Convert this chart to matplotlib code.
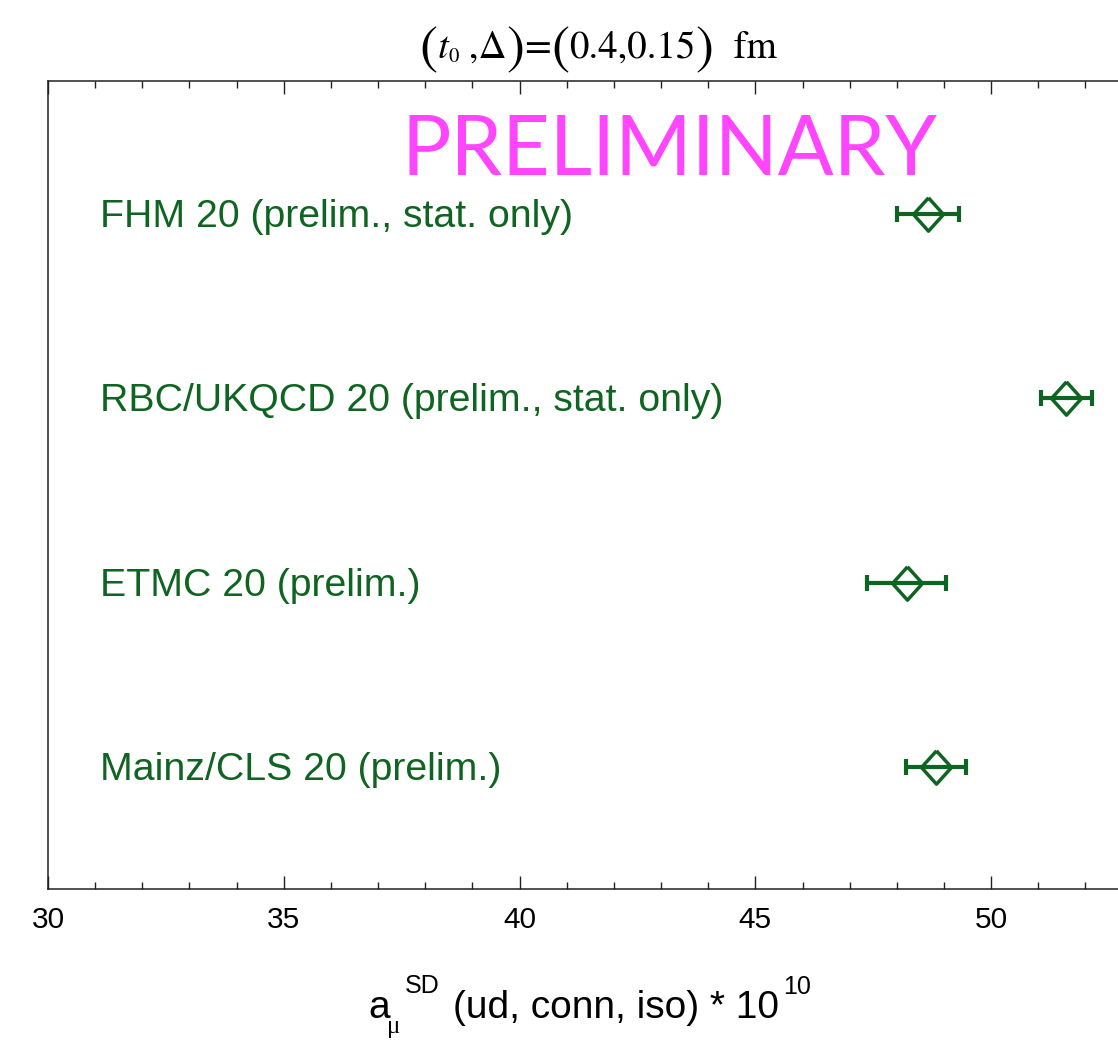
import matplotlib
matplotlib.use("Agg")
import matplotlib.pyplot as plt
from matplotlib.ticker import MultipleLocator
from matplotlib.transforms import blended_transform_factory, offset_copy

# Results: a_mu^SD (ud, conn, iso) * 10^10
collabs = ["FHM 20 (prelim., stat. only)",
           "RBC/UKQCD 20 (prelim., stat. only)",
           "ETMC 20 (prelim.)",
           "Mainz/CLS 20 (prelim.)"]
values = [48.66, 51.59, 48.21, 48.83]
errors = [0.65, 0.54, 0.84, 0.64]
rows = [4, 3, 2, 1]

green = "#0e6420"
magenta = "#ff45ff"

W, H = 1118, 1041
fig = plt.figure(figsize=(W / 100, H / 100), dpi=100)
ax = fig.add_axes([48 / W, 1 - 889 / H, 1070 / W, (889 - 81) / H])

ax.errorbar(values, rows, xerr=errors, fmt="none", ecolor=green,
            elinewidth=3.0, capsize=5.5, capthick=3.0, zorder=3)
diamond = [(0, 1), (0.9, 0), (0, -1), (-0.9, 0), (0, 1)]
ax.plot(values, rows, linestyle="none", marker=diamond, markersize=24,
        markerfacecolor="none", markeredgecolor=green, markeredgewidth=2.5,
        zorder=4)

lab_tr = offset_copy(blended_transform_factory(ax.transAxes, ax.transData),
                     fig=fig, x=0, y=-3, units="dots")
for name, r in zip(collabs, rows):
    ax.text(52 / 1070, r, name, transform=lab_tr, ha="left", va="center",
            color=green, fontsize=28.3, family="Liberation Sans")

ax.set_xlim(30, 52.69)
ax.set_ylim(0.338, 4.72)
ax.xaxis.set_major_locator(MultipleLocator(5))
ax.xaxis.set_minor_locator(MultipleLocator(1))
ax.tick_params(axis="x", which="both", direction="in", top=True, bottom=True,
               width=1.0, color="#222222")
ax.tick_params(axis="x", which="major", length=9.5, pad=12, labelsize=21.5)
ax.tick_params(axis="x", which="minor", length=5)
ax.tick_params(axis="y", left=False, labelleft=False)
for lbl in ax.get_xticklabels():
    lbl.set_family("Liberation Sans")
ax.spines["right"].set_visible(False)
for s in ("left", "top", "bottom"):
    ax.spines[s].set_linewidth(1.1)
    ax.spines[s].set_color("#222222")

renderer = fig.canvas.get_renderer()


def run_of_text(pieces, x_center, baseline, family):
    """Lay out (text, size, style, dy_px) pieces left to right, centred."""
    items = []
    x = 0.0
    for s, size, style, dy in pieces:
        t = fig.text(0, 0, s, fontsize=size, style=style, family=family,
                     ha="left", va="baseline")
        w = t.get_window_extent(renderer).width
        items.append((t, x, dy))
        x += w
    x0 = x_center - x / 2
    for t, off, dy in items:
        t.set_position(((x0 + off) / W, 1 - (baseline + dy) / H))


# Title
run_of_text([("(", 39, "normal", 5), ("t", 28, "italic", 0),
             ("0", 15, "normal", 4), (" ,\u0394", 28, "normal", 0),
             (")", 39, "normal", 5), ("=", 28, "normal", 0),
             ("(", 39, "normal", 5), ("0.4,0.15", 28, "normal", 0),
             (")", 39, "normal", 5), ("  fm", 28, "normal", 0)],
            598, 58, "STIXGeneral")

# Watermark
fig.text(669 / W, 1 - 175 / H, "PRELIMINARY", ha="center", va="baseline",
         color=magenta, fontsize=59.5, family="Lato", weight="normal")

# Axis label built from pieces
ly = 1 - 1018 / H
fig.text(368 / W, ly, "a", ha="left", va="baseline", fontsize=28,
         family="Liberation Sans")
fig.text(387 / W, 1 - 1033 / H, "\u03bc", ha="left", va="baseline",
         fontsize=18, family="Liberation Serif")
fig.text(405 / W, 1 - 993 / H, "SD", ha="left", va="baseline", fontsize=18,
         family="Liberation Sans")
fig.text(453 / W, ly, "(ud, conn, iso) * 10", ha="left", va="baseline",
         fontsize=28, family="Liberation Sans")
fig.text(783 / W, 1 - 994 / H, "10", ha="left", va="baseline", fontsize=18,
         family="Liberation Sans")

fig.savefig("out.png", dpi=100)
